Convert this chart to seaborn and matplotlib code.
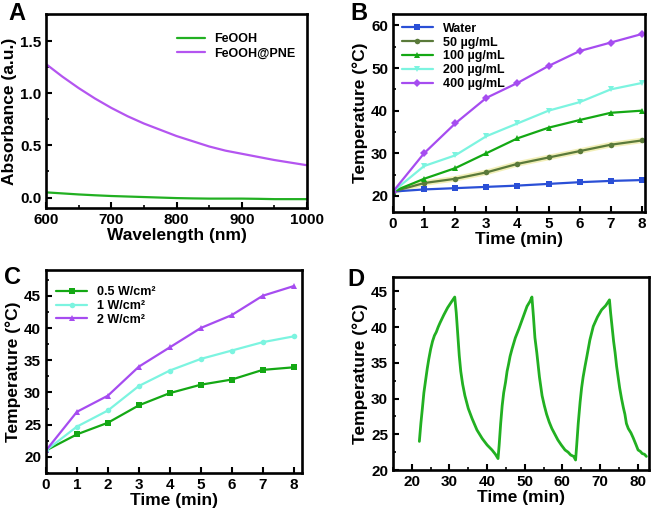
import matplotlib
matplotlib.use("Agg")
import matplotlib.pyplot as plt
import seaborn as sns
from matplotlib.ticker import MultipleLocator

# ---------- data ----------
# Panel A
wavelength = [600, 625, 650, 675, 700, 725, 750, 775, 800, 825, 850, 875, 900, 925, 950, 975, 1000]
abs_feooh = [0.05, 0.04, 0.03, 0.022, 0.015, 0.01, 0.005, 0.0, -0.005, -0.008, -0.01,
             -0.01, -0.01, -0.012, -0.015, -0.015, -0.015]
abs_pne = [1.28, 1.16, 1.05, 0.95, 0.86, 0.78, 0.71, 0.65, 0.59, 0.54, 0.49, 0.45, 0.42,
           0.39, 0.36, 0.335, 0.31]

# Panel B
time_b = [0, 1, 2, 3, 4, 5, 6, 7, 8]
b_water = [21, 21.5, 21.8, 22.1, 22.4, 22.8, 23.2, 23.5, 23.7]
b_50 = [21, 23, 24, 25.5, 27.5, 29, 30.5, 32, 33]
b_100 = [21, 24, 26.5, 30, 33.5, 36, 37.8, 39.5, 40]
b_200 = [21, 27, 29.5, 34, 37, 40, 42, 45, 46.5]
b_400 = [21, 30, 37, 43, 46.5, 50.5, 54, 56, 58]
b_labels = ["Water", "50 µg/mL", "100 µg/mL", "200 µg/mL", "400 µg/mL"]

# Panel C
time_c = [0, 1, 2, 3, 4, 5, 6, 7, 8]
c_05 = [21, 23.5, 25.3, 28, 29.9, 31.2, 32, 33.5, 33.9]
c_1 = [21, 24.7, 27.2, 31, 33.4, 35.2, 36.5, 37.8, 38.7]
c_2 = [21, 27, 29.5, 34, 37, 40, 42, 45, 46.5]
c_labels = ["0.5 W/cm²", "1 W/cm²", "2 W/cm²"]

# Panel D
time_d = [22.0, 22.4, 22.8, 23.2, 23.7, 24.1, 24.5, 25.0, 25.5, 26.0, 26.5, 27.0, 27.5,
          28.5, 29.5, 30.5, 31.4,
          31.8, 32.2, 32.6, 33.0, 33.5, 34.1, 35.0, 36.0, 37.3, 38.7, 40.0, 41.3, 42.2, 42.9,
          43.2, 43.6, 44.0, 44.4, 44.9, 45.3, 45.7, 46.1, 46.6, 47.5, 48.4, 49.5, 50.6,
          51.4, 51.9,
          52.3, 52.7, 53.2, 53.9, 54.6, 55.2, 55.8, 56.5, 57.2, 58.0, 58.8, 59.7, 60.7,
          61.5, 62.2, 63.0, 63.5,
          63.8, 64.2, 64.7, 65.1, 65.5, 66.0, 66.5, 67.3, 68.2, 69.3, 70.4, 71.5, 72.5,
          72.8, 73.2, 73.6, 74.0, 74.4, 74.8, 75.2, 75.7, 76.2, 76.6, 77.0, 77.5, 78.2,
          78.8, 79.5, 80.1, 80.7, 81.2, 81.8, 82.3]
temp_d = [24.0, 26.5, 28.6, 30.8, 32.7, 34.2, 35.5, 36.9, 38.0, 38.8, 39.3, 40.0, 40.6,
          41.7, 42.7, 43.5, 44.2,
          42.0, 39.0, 36.0, 33.8, 32.0, 30.4, 28.6, 27.2, 25.6, 24.4, 23.5, 22.8, 22.2, 21.6,
          23.5, 26.5, 29.0, 30.8, 32.3, 33.8, 34.8, 35.9, 36.9, 38.5, 39.7, 41.3, 42.9,
          43.6, 44.2,
          41.5, 38.5, 36.4, 33.0, 30.4, 29.0, 27.8, 26.7, 25.8, 25.0, 24.2, 23.5, 22.8,
          22.5, 22.1, 21.9, 21.4,
          23.5, 26.5, 29.5, 31.5, 33.0, 34.5, 35.9, 38.2, 40.1, 41.4, 42.4, 43.0, 43.8,
          42.0, 40.0, 38.0, 36.4, 34.5, 33.0, 31.5, 30.0, 28.7, 27.8, 26.5, 25.8, 25.2,
          24.5, 23.6, 22.8, 22.6, 22.3, 22.2, 21.9]

# ---------- style ----------
sns.set_style("ticks")
plt.rcParams["font.family"] = ["Liberation Sans", "DejaVu Sans"]
plt.rcParams["font.weight"] = "bold"
plt.rcParams["axes.labelweight"] = "bold"
plt.rcParams["axes.linewidth"] = 1.9
plt.rcParams["axes.edgecolor"] = "black"
plt.rcParams["xtick.color"] = "black"
plt.rcParams["ytick.color"] = "black"
plt.rcParams["text.color"] = "black"
plt.rcParams["axes.labelcolor"] = "black"
plt.rcParams["xtick.direction"] = "in"
plt.rcParams["ytick.direction"] = "in"
plt.rcParams["xtick.major.width"] = 1.5
plt.rcParams["ytick.major.width"] = 1.5
plt.rcParams["xtick.minor.width"] = 1.2
plt.rcParams["ytick.minor.width"] = 1.2
plt.rcParams["xtick.major.size"] = 4
plt.rcParams["ytick.major.size"] = 4
plt.rcParams["xtick.minor.size"] = 2.5
plt.rcParams["ytick.minor.size"] = 2.5

fig = plt.figure(figsize=(6.61, 5.14), dpi=100)
W, H = 661, 514


def add_ax(l, r, t, b):
    return fig.add_axes([l / W, 1 - b / H, (r - l) / W, (b - t) / H])


axA = add_ax(46, 307, 14, 208)
axB = add_ax(393, 645, 14, 212)
axC = add_ax(46, 302, 270, 473)
axD = add_ax(393, 649, 277, 470)

tick_fs = 11
label_fs = 12.5
leg_fs = 9

# ---- A ----
sns.lineplot(x=wavelength, y=abs_feooh, ax=axA, color="#22b022", lw=1.6, label="FeOOH")
sns.lineplot(x=wavelength, y=abs_pne, ax=axA, color="#b455f0", lw=1.6, label="FeOOH@PNE")
axA.set_xlim(600, 1000)
axA.set_ylim(-0.1, 1.76)
axA.xaxis.set_major_locator(MultipleLocator(100))
axA.xaxis.set_minor_locator(MultipleLocator(50))
axA.yaxis.set_major_locator(MultipleLocator(0.5))
axA.yaxis.set_minor_locator(MultipleLocator(0.25))
axA.set_xlabel("Wavelength (nm)", fontsize=label_fs)
axA.set_ylabel("Absorbance (a.u.)", fontsize=label_fs)
axA.legend(loc="upper right", frameon=False, fontsize=leg_fs, handlelength=2.2,
           labelspacing=0.2, bbox_to_anchor=(1.0, 0.96))

# ---- B ----
sns.lineplot(x=time_b, y=b_50, ax=axB, color="#f2efb8", lw=4, legend=False)
b_series = [b_water, b_50, b_100, b_200, b_400]
b_colors = ["#2a4fd6", "#5a7a3a", "#14a814", "#7cf4e0", "#a64cf0"]
b_markers = ["s", "o", "^", "v", "D"]
for ys, col, mk, lab in zip(b_series, b_colors, b_markers, b_labels):
    sns.lineplot(x=time_b, y=ys, ax=axB, color=col, lw=1.6, marker=mk, markersize=4,
                 markeredgewidth=0, label=lab)
axB.set_xlim(0, 8.1)
axB.set_ylim(16.2, 62.7)
axB.xaxis.set_major_locator(MultipleLocator(1))
axB.yaxis.set_major_locator(MultipleLocator(10))
axB.yaxis.set_minor_locator(MultipleLocator(5))
axB.set_xlabel("Time (min)", fontsize=label_fs)
axB.set_ylabel("Temperature (°C)", fontsize=label_fs)
axB.legend(loc="upper left", frameon=False, fontsize=leg_fs, handlelength=2.5,
           labelspacing=0.15, borderaxespad=0.3)

# ---- C ----
c_series = [c_05, c_1, c_2]
c_colors = ["#14a814", "#7cf4e0", "#a64cf0"]
c_markers = ["s", "o", "^"]
for ys, col, mk, lab in zip(c_series, c_colors, c_markers, c_labels):
    sns.lineplot(x=time_c, y=ys, ax=axC, color=col, lw=1.6, marker=mk, markersize=4,
                 markeredgewidth=0, label=lab)
axC.set_xlim(0, 8.27)
axC.set_ylim(17.5, 49.0)
axC.xaxis.set_major_locator(MultipleLocator(1))
axC.yaxis.set_major_locator(MultipleLocator(5))
axC.yaxis.set_minor_locator(MultipleLocator(2.5))
axC.set_xlabel("Time (min)", fontsize=label_fs)
axC.set_ylabel("Temperature (°C)", fontsize=label_fs)
axC.legend(loc="upper left", frameon=False, fontsize=leg_fs, handlelength=2.5,
           labelspacing=0.15, borderaxespad=0.4, bbox_to_anchor=(0.0, 0.97))

# ---- D ----
sns.lineplot(x=time_d, y=temp_d, ax=axD, color="#22b022", lw=2.0, sort=False)
axD.set_xlim(15, 83)
axD.set_ylim(20, 47.0)
axD.xaxis.set_major_locator(MultipleLocator(10))
axD.xaxis.set_minor_locator(MultipleLocator(5))
axD.yaxis.set_major_locator(MultipleLocator(5))
axD.yaxis.set_minor_locator(MultipleLocator(2.5))
axD.set_xlabel("Time (min)", fontsize=label_fs)
axD.set_ylabel("Temperature (°C)", fontsize=label_fs)

for ax in (axA, axB, axC, axD):
    ax.tick_params(labelsize=tick_fs, which="both", top=False, right=False)
    for lbl in ax.get_xticklabels() + ax.get_yticklabels():
        lbl.set_fontweight("bold")
    ax.xaxis.labelpad = 1
    ax.yaxis.labelpad = 2

fig.text(8 / W, 1 - 2 / H, "A", fontsize=17, fontweight="bold", va="top")
fig.text(350 / W, 1 - 2 / H, "B", fontsize=17, fontweight="bold", va="top")
fig.text(4 / W, 1 - 266 / H, "C", fontsize=17, fontweight="bold", va="top")
fig.text(347 / W, 1 - 268 / H, "D", fontsize=17, fontweight="bold", va="top")

fig.savefig("out.png", dpi=100)
